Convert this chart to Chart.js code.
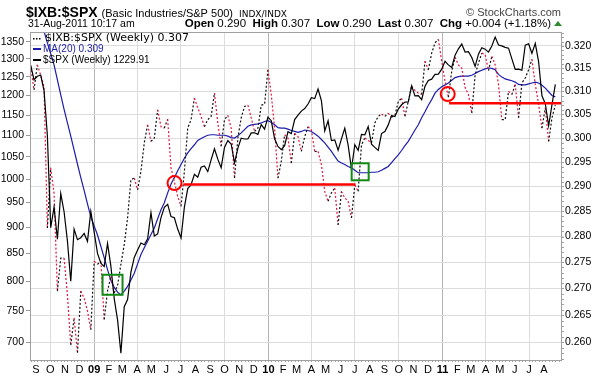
<!DOCTYPE html>
<html>
<head>
<meta charset="utf-8">
<script src="https://cdn.jsdelivr.net/npm/chart.js@4.4.1/dist/chart.umd.min.js"></script>
<style>
  html, body { margin: 0; padding: 0; background: #fff; }
  #wrap { width: 606px; height: 391px; }
</style>
</head>
<body>
<div id="wrap"><canvas id="chart" width="606" height="391"></canvas></div>
<script>
// weekly bars, first = week of 29-Aug-2008, last = 31-Aug-2011 (partial week)
const spx = [1282.83,1242.31,1251.70,1255.08,1213.27,1099.23,899.22,940.55,876.77,968.75,
  930.99,873.29,800.03,896.24,876.07,879.73,887.88,872.80,931.80,890.35,
  850.12,831.95,825.88,868.60,826.84,770.05,735.09,683.38,756.55,768.54,
  815.94,842.50,856.56,869.60,866.23,877.52,929.23,882.88,887.00,919.14,
  940.09,946.21,921.23,918.90,896.42,879.13,940.38,979.26,987.48,1010.48,
  1004.09,1026.13,1028.93,1016.40,1042.73,1068.30,1044.38,1025.21,1071.49,1087.68,
  1079.60,1036.19,1069.30,1093.48,1091.38,1091.49,1105.98,1106.41,1102.47,1126.48,
  1115.10,1144.98,1136.03,1091.76,1073.87,1066.19,1075.51,1109.17,1104.49,1138.70,
  1149.99,1159.90,1166.59,1178.10,1194.37,1192.13,1217.28,1186.69,1110.88,1135.68,
  1087.69,1089.41,1064.88,1091.60,1117.51,1076.76,1022.58,1077.96,1064.88,1102.66,
  1101.60,1121.64,1079.25,1071.69,1064.59,1104.51,1109.55,1125.59,1148.67,1146.24,
  1165.15,1176.19,1183.08,1183.26,1225.85,1199.21,1199.73,1189.40,1224.71,1240.40,
  1243.91,1256.77,1257.64,1271.50,1293.24,1283.35,1276.34,1310.87,1329.15,1343.01,
  1319.88,1321.15,1304.28,1279.20,1313.80,1332.41,1328.17,1319.68,1337.38,1363.61,
  1340.20,1337.77,1333.27,1331.10,1300.16,1270.98,1271.50,1268.45,1339.67,1343.80,
  1316.14,1345.02,1292.28,1199.38,1178.81,1123.53,1176.80,1229.91];

const ratio = [0.3155,0.3103,0.3158,0.3135,0.3110,0.2817,0.2938,0.2886,0.2695,0.2758,
  0.2758,0.2688,0.2595,0.2645,0.2581,0.2695,0.2682,0.2658,0.2623,0.2752,
  0.2746,0.2752,0.2642,0.2695,0.2723,0.2692,0.2705,0.2746,0.2784,0.2837,
  0.2914,0.2917,0.2893,0.2931,0.2990,0.3028,0.2993,0.3000,0.3060,0.3024,
  0.3021,0.3040,0.2938,0.2910,0.2880,0.2860,0.2931,0.3021,0.3039,0.3085,
  0.3064,0.3046,0.3024,0.3039,0.3046,0.3096,0.3032,0.2983,0.3039,0.3048,
  0.3021,0.2917,0.3000,0.3043,0.3067,0.3070,0.3043,0.3014,0.3021,0.3070,
  0.3072,0.3147,0.3093,0.3021,0.2917,0.2952,0.3007,0.3000,0.2948,0.3010,
  0.3003,0.2972,0.3003,0.3024,0.3017,0.2972,0.2972,0.2945,0.2890,0.2870,
  0.2887,0.2897,0.2823,0.2890,0.2877,0.2870,0.2837,0.2903,0.2890,0.2986,
  0.3000,0.2995,0.2990,0.3032,0.3046,0.3051,0.3046,0.3053,0.3044,0.3048,
  0.3078,0.3085,0.3046,0.3078,0.3111,0.3102,0.3096,0.3093,0.3166,0.3147,
  0.3184,0.3207,0.3215,0.3166,0.3122,0.3087,0.3144,0.3175,0.3158,0.3151,
  0.3108,0.3093,0.3053,0.3136,0.3162,0.3184,0.3181,0.3145,0.3177,0.3158,
  0.3115,0.3039,0.3039,0.3100,0.3093,0.3115,0.3043,0.3118,0.3129,0.3147,
  0.3170,0.3115,0.3072,0.3021,0.3064,0.2993,0.3043,0.3070];

const ma20 = [0.3340,0.3315,0.3290,0.3262,0.3233,0.3207,0.3183,0.3158,0.3125,0.3092,
  0.3061,0.3032,0.3004,0.2975,0.2946,0.2918,0.2892,0.2865,0.2839,0.2821,
  0.2803,0.2781,0.2759,0.2736,0.2715,0.2702,0.2693,0.2688,0.2695,0.2704,
  0.2716,0.2729,0.2747,0.2765,0.2778,0.2791,0.2804,0.2817,0.2835,0.2853,
  0.2867,0.2887,0.2905,0.2918,0.2932,0.2945,0.2958,0.2969,0.2978,0.2986,
  0.2995,0.2999,0.3003,0.3006,0.3007,0.3007,0.3006,0.3006,0.3006,0.3004,
  0.3001,0.3000,0.3005,0.3011,0.3018,0.3025,0.3028,0.3029,0.3030,0.3032,
  0.3035,0.3037,0.3033,0.3028,0.3022,0.3021,0.3021,0.3019,0.3016,0.3014,
  0.3012,0.3014,0.3017,0.3016,0.3014,0.3009,0.3004,0.2997,0.2990,0.2981,
  0.2972,0.2962,0.2952,0.2948,0.2945,0.2941,0.2938,0.2933,0.2928,0.2928,
  0.2928,0.2928,0.2929,0.2929,0.2930,0.2933,0.2937,0.2941,0.2949,0.2957,
  0.2965,0.2974,0.2984,0.2993,0.3005,0.3017,0.3028,0.3043,0.3056,0.3070,
  0.3082,0.3096,0.3104,0.3110,0.3114,0.3118,0.3124,0.3130,0.3132,0.3133,
  0.3133,0.3133,0.3135,0.3139,0.3143,0.3146,0.3149,0.3151,0.3150,0.3147,
  0.3137,0.3131,0.3127,0.3125,0.3123,0.3120,0.3115,0.3114,0.3114,0.3116,
  0.3118,0.3120,0.3118,0.3113,0.3107,0.3099,0.3091,0.3088];

const monthLabels = ["S","O","N","D","09","F","M","A","M","J","J","A",
  "S","O","N","D","10","F","M","A","M","J","J","A",
  "S","O","N","D","11","F","M","A","M","J","J","A"];
const spxTicks = [700,750,800,850,900,950,1000,1050,1100,1150,1200,1250,1300,1350];
const ratioTicks = [0.260,0.265,0.270,0.275,0.280,0.285,0.290,0.295,0.300,0.305,0.310,0.315,0.320];

// hand drawn marks on the original: [week, ratio] etc.
const circles = [[43.05, 0.2907], [124.8, 0.3094]];
const levels = [[45.7, 97.2, 0.2904], [125.2, 159, 0.3074]];
const boxes = [[24.5, 0.2707], [98.6, 0.2930]];

const FONT = '"Liberation Sans", Arial, sans-serif';
const VFONT = '"DejaVu Sans", Verdana, sans-serif';
const axisStart = new Date(2008, 7, 21);   // axis date under the first bar
function weekPos(d) { return (d - axisStart) / (7 * 864e5); }
const monthTicks = monthLabels.map((_, i) => weekPos(new Date(2008, 8 + i, 1)));
function monthOfYear(i) { return (8 + i) % 12; }

const overlay = {
  id: "overlay",
  afterDatasetsDraw(chart) {
    const c = chart.ctx, a = chart.chartArea;
    const x = chart.scales.x, r = chart.scales.ratio;
    c.save();
    c.beginPath();
    c.rect(a.left, a.top, a.right - a.left, a.bottom - a.top);
    c.clip();
    c.strokeStyle = "#ff0000";
    c.lineWidth = 2.5;
    levels.forEach(function (l) {
      c.beginPath();
      c.moveTo(x.getPixelForValue(l[0]), r.getPixelForValue(l[2]));
      c.lineTo(x.getPixelForValue(l[1]), r.getPixelForValue(l[2]));
      c.stroke();
    });
    c.lineWidth = 2;
    circles.forEach(function (p) {
      c.beginPath();
      c.arc(x.getPixelForValue(p[0]), r.getPixelForValue(p[1]), 7, 0, Math.PI * 2);
      c.stroke();
    });
    c.strokeStyle = "#138a13";
    boxes.forEach(function (b, i) {
      var s = i == 0 ? 20 : 17;
      c.strokeRect(x.getPixelForValue(b[0]) - s / 2, r.getPixelForValue(b[1]) - s / 2, s, s);
    });
    c.restore();

    // frame + minor ticks
    c.save();
    c.strokeStyle = "#a0a0a0";
    c.lineWidth = 1;
    c.strokeRect(a.left + 0.5, a.top + 0.5, a.right - a.left - 1, a.bottom - a.top);
    c.beginPath();
    for (var k = 0; k <= 158; k++) {
      var px = Math.round(x.getPixelForValue(k)) + 0.5;
      c.moveTo(px, a.bottom); c.lineTo(px, a.bottom + 2);
    }
    for (var v = 0.257; v < 0.324; v += 0.001) {
      var py = Math.round(r.getPixelForValue(v)) + 0.5;
      c.moveTo(a.right, py); c.lineTo(a.right + 2, py);
    }
    c.stroke();
    c.restore();

    // legend
    c.save();
    c.textBaseline = "alphabetic";
    c.fillStyle = "#000";
    c.fillRect(33, 38, 1.5, 1.5); c.fillRect(36, 38, 1.5, 1.5); c.fillRect(39, 38, 1.5, 1.5);
    c.font = "11px " + VFONT;
    c.fillText("$IXB:$SPX (Weekly) 0.307", 45, 41);
    c.fillStyle = "#1c1ca8";
    c.fillRect(33, 48, 8, 2);
    c.font = "10px " + FONT;
    c.fillText("MA(20) 0.309", 43, 52);
    c.fillStyle = "#000";
    c.fillRect(33, 59, 8, 2);
    c.fillText("$SPX (Weekly) 1229.91", 43, 63);
    c.restore();
  },
  afterDraw(chart) {
    const c = chart.ctx;
    c.save();
    c.fillStyle = "#000";
    c.textBaseline = "alphabetic";
    c.font = "bold 14px " + FONT;
    c.fillText("$IXB:$SPX", 26, 17);
    var w = c.measureText("$IXB:$SPX").width;
    c.font = "11px " + FONT;
    c.fillText("(Basic Industries/S&P 500)", 26 + w + 4, 17);
    var w2 = c.measureText("(Basic Industries/S&P 500)").width;
    c.font = "9px " + VFONT;
    c.fillText("INDX/INDX", 26 + w + 4 + w2 + 6, 17);
    c.fillStyle = "#444";
    c.textAlign = "right";
    c.font = "11px " + FONT;
    c.fillText("\u00a9 StockCharts.com", 561, 16);
    c.fillStyle = "#000";
    c.textAlign = "left";
    c.font = "10.5px " + FONT;
    c.fillText("31-Aug-2011 10:17 am", 28, 27);
    var parts = [["Open", 1], [" 0.290  ", 0], ["High", 1], [" 0.307  ", 0], ["Low", 1],
      [" 0.290  ", 0], ["Last", 1], [" 0.307  ", 0], ["Chg", 1], [" +0.004 (+1.18%)", 0]];
    var total = 0;
    parts.forEach(function (p) {
      c.font = (p[1] ? "bold " : "") + "11.5px " + FONT;
      total += c.measureText(p[0]).width;
    });
    var px = 551 - total;
    parts.forEach(function (p) {
      c.font = (p[1] ? "bold " : "") + "11.5px " + FONT;
      c.fillText(p[0], px, 27);
      px += c.measureText(p[0]).width;
    });
    c.fillStyle = "#2e8b2e";
    c.beginPath();
    c.moveTo(554, 26); c.lineTo(562, 26); c.lineTo(558, 21); c.closePath();
    c.fill();
    c.restore();
  }
};

const ctx = document.getElementById("chart").getContext("2d");
const chart = new Chart(ctx, {
  type: "line",
  data: {
    datasets: [
      {
        label: "$SPX (Weekly)",
        data: spx.map(function (v, i) { return { x: i, y: v }; }),
        yAxisID: "spx",
        borderColor: "#000",
        borderWidth: 1.2,
      },
      {
        label: "$IXB:$SPX (Weekly)",
        data: ratio.map(function (v, i) { return { x: i, y: v }; }),
        yAxisID: "ratio",
        borderWidth: 1.2,
        borderDash: [2, 2],
        segment: {
          borderColor: function (s) { return s.p1.parsed.y >= s.p0.parsed.y ? "#111" : "#e3173e"; },
        },
      },
      {
        label: "MA(20)",
        data: ma20.map(function (v, i) { return { x: i, y: v }; }),
        yAxisID: "ratio",
        borderColor: "#1c1cac",
        borderWidth: 1.2,
      },
    ],
  },
  options: {
    responsive: false,
    animation: false,
    layout: { padding: { top: 32 } },
    elements: { point: { radius: 0 }, line: { tension: 0 } },
    plugins: { legend: { display: false }, tooltip: { enabled: false } },
    scales: {
      x: {
        type: "linear",
        min: -0.2,
        max: 159,
        afterBuildTicks: function (s) { s.ticks = monthTicks.map(function (v) { return { value: v }; }); },
        afterFit: function (s) { s.height = 31; },
        border: { display: false },
        grid: {
          drawTicks: false,
          color: function (c) {
            var m = monthOfYear(c.index);
            if (m == 0) return "#b4b4b4";
            return m % 3 == 0 ? "#dcdcdc" : "rgba(0,0,0,0)";
          },
        },
        ticks: {
          autoSkip: false,
          maxRotation: 0,
          padding: 3,
          color: "#000",
          callback: function (v, i) { return monthLabels[i]; },
          font: function (c) {
            return { family: FONT, size: 11, weight: monthOfYear(c.index) == 0 ? "bold" : "normal" };
          },
        },
      },
      spx: {
        type: "logarithmic",
        position: "left",
        min: 673.4,
        max: 1378.9,
        afterBuildTicks: function (s) { s.ticks = spxTicks.map(function (v) { return { value: v }; }); },
        afterFit: function (s) { s.width = 30; },
        border: { display: false },
        grid: { drawOnChartArea: false, tickLength: 4, color: "#999" },
        ticks: { padding: 2, color: "#000", font: { family: FONT, size: 10.5 }, callback: function (v) { return String(v); } },
      },
      ratio: {
        type: "logarithmic",
        position: "right",
        min: 0.2568,
        max: 0.32315,
        afterBuildTicks: function (s) { s.ticks = ratioTicks.map(function (v) { return { value: v }; }); },
        afterFit: function (s) { s.width = 44; },
        border: { display: false },
        grid: { color: "#dcdcdc", tickLength: 2 },
        ticks: { padding: 1, color: "#000", font: { family: FONT, size: 10.5 }, callback: function (v) { return v.toFixed(3); } },
      },
    },
  },
  plugins: [overlay],
});
</script>
</body>
</html>
